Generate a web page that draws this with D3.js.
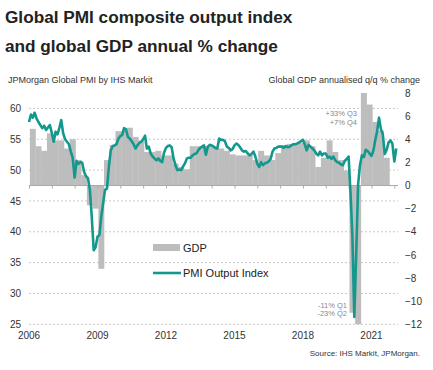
<!DOCTYPE html>
<html>
<head>
<meta charset="utf-8">
<script src="https://cdn.jsdelivr.net/npm/d3@7"></script>
<style>
  body { margin: 0; background: #fff; }
  svg { display: block; font-family: "Liberation Sans", Arial, sans-serif; }
</style>
</head>
<body>
<svg id="chart" width="433" height="370"></svg>
<script>
// PMI output index, monthly, Jan 2006 .. Feb 2022
const pmiStart = [2006, 0];
const pmi = [
  57.8, 59.0, 58.5, 59.3, 58.4, 57.8, 57.3, 56.8, 57.2, 56.5, 56.9, 57.3,
  56.0, 54.6, 56.2, 55.8, 56.8, 58.1, 56.0, 55.0, 54.6, 54.2, 53.0, 52.0,
  48.8, 51.5, 51.0, 51.3, 51.2, 49.7, 49.0, 48.7, 46.8, 42.4, 37.0, 37.5,
  39.2, 39.5, 42.4, 44.6, 46.8, 47.0, 50.5, 53.2, 53.9, 54.0, 54.2, 55.1,
  55.5, 55.7, 56.8, 56.6, 55.4, 55.1, 54.7, 54.2, 53.5, 54.0, 54.4, 54.6,
  55.0, 55.6, 53.5, 53.8, 52.7, 52.2, 51.9, 51.6, 51.9, 51.5, 51.3, 52.8,
  53.6, 53.9, 54.0, 53.7, 51.9, 50.8, 50.0, 50.1, 50.0, 50.6, 51.1, 51.9,
  52.0, 52.0, 52.4, 52.6, 52.7, 53.2, 53.6, 53.8, 54.0, 52.5, 53.8, 54.1,
  54.0, 53.8, 53.6, 53.5, 55.1, 54.9, 54.9, 54.7, 53.8, 53.6, 53.2, 53.4,
  54.0, 54.3, 54.1, 53.7, 53.2, 53.0, 53.1, 52.7, 52.4, 52.6, 53.0, 52.2,
  51.0, 50.5, 51.3, 50.8, 51.1, 51.2, 51.4, 51.8, 53.0, 53.5, 53.6, 53.8,
  53.8, 53.8, 53.6, 53.9, 53.7, 53.8, 54.0, 54.2, 54.2, 54.3, 54.5, 54.7,
  54.9, 54.1, 53.2, 54.1, 53.8, 53.5, 53.2, 52.7, 52.4, 53.0, 52.4, 52.7,
  52.7, 52.0, 52.2, 51.8, 52.2, 51.6, 51.3, 51.2, 50.9, 50.8, 51.5, 51.8,
  52.2, 46.1, 39.4, 26.2, 36.3, 47.7, 50.8, 52.4, 52.1, 53.3, 53.1, 52.7,
  52.3, 53.2, 54.8, 56.3, 58.5, 56.6, 55.8, 52.6, 53.3, 54.5, 54.8, 54.3,
  51.4, 53.5
];

// GDP annualised q/q %, quarterly, 2006 Q1 .. 2021 Q3
const gdpStart = [2006, 0];
const gdp = [
  4.9, 3.4, 3.0, 4.5,
  3.9, 3.9, 3.2, 4.0,
  2.2, 0.9, -1.7, -2.0,
  -7.2, 2.2, 3.5, 4.7,
  4.7, 5.0, 4.2, 3.9,
  2.9, 2.9, 3.0, 2.6,
  2.6, 1.9, 1.6, 1.4,
  3.4, 3.4, 3.4, 3.4,
  3.3, 3.2, 3.0, 2.7,
  2.6, 2.6, 2.6, 2.2,
  3.0, 2.6, 2.2, 2.8,
  3.5, 3.6, 3.6, 3.7,
  3.9, 3.4, 1.6, 2.4,
  3.9, 2.9, 2.2, 1.3,
  -11, -23, 33, 7,
  5.5, 4.75, 2.4
];

const pmiTicks = [25, 30, 35, 40, 45, 50, 55, 60];
const gdpTicks = [-12, -10, -8, -6, -4, -2, 0, 2, 4, 6, 8];
const yearLabels = [2006, 2009, 2012, 2015, 2018, 2021];

const colours = { line: '#14988d', bar: '#bdbdbd', grid: '#c8c8c8', text: '#333' };

const svg = d3.select('#chart');
const plot = { left: 29, right: 398, top: 93, bottom: 324.3 };

// Scales
const x = d3.scaleTime()
  .domain([new Date(2006, 0, 1), new Date(2022, 2, 1)])
  .range([plot.left, plot.right]);

const yL = d3.scaleLinear().domain([25, 62.5]).range([plot.bottom, plot.top]);
const yR = d3.scaleLinear().domain([-12, 8]).range([plot.bottom, plot.top]).clamp(true);

// Titles
const title = svg.append('g').attr('fill', '#222').style('font-weight', 'bold').style('font-size', '17.2px');
title.append('text').attr('x', 5).attr('y', 23).text('Global PMI composite output index');
title.append('text').attr('x', 5).attr('y', 52).text('and global GDP annual % change');

svg.append('text').attr('x', 8).attr('y', 83)
  .attr('fill', colours.text).style('font-size', '9px')
  .text('JPMorgan Global PMI by IHS Markit');
svg.append('text').attr('x', 420).attr('y', 83)
  .attr('fill', colours.text).style('font-size', '9px').attr('text-anchor', 'end')
  .text('Global GDP annualised q/q % change');

// Gridlines (left axis)
svg.append('g').selectAll('line').data(pmiTicks).join('line')
  .attr('x1', plot.left).attr('x2', plot.right)
  .attr('y1', d => yL(d)).attr('y2', d => yL(d))
  .attr('stroke', colours.grid).attr('stroke-dasharray', '2 2');

// GDP bars
const quarterDate = (i, shift) => new Date(gdpStart[0], gdpStart[1] + i * 3 + shift, 15);
svg.append('g').selectAll('rect').data(gdp).join('rect')
  .attr('x', (d, i) => x(quarterDate(i, 0)))
  .attr('width', (d, i) => x(quarterDate(i, 3)) - x(quarterDate(i, 0)) + 0.3)
  .attr('y', d => Math.min(yR(d), yR(0)))
  .attr('height', d => Math.abs(yR(d) - yR(0)))
  .attr('fill', colours.bar);

// Zero line with year ticks
const xAxis = d3.axisBottom(x)
  .ticks(d3.timeYear.every(1))
  .tickSize(3)
  .tickFormat('');
const xAxisG = svg.append('g').attr('transform', `translate(0,${yR(0)})`).call(xAxis);
xAxisG.select('.domain').attr('stroke', '#aaa').attr('d', `M${plot.left},0H${plot.right}`);
xAxisG.selectAll('.tick line').attr('stroke', '#aaa');

// Year labels
svg.append('g').selectAll('text').data(yearLabels).join('text')
  .attr('x', d => x(new Date(d, 0, 1)))
  .attr('y', 339)
  .attr('text-anchor', 'middle')
  .attr('fill', colours.text).style('font-size', '10px')
  .text(d => d);

// Left axis labels
const yLAxis = d3.axisLeft(yL).tickValues(pmiTicks).tickSize(0).tickPadding(0);
const yLG = svg.append('g').attr('transform', 'translate(21,0)').call(yLAxis);
yLG.select('.domain').remove();
yLG.selectAll('text').attr('fill', colours.text).style('font-size', '10px')
  .style('font-family', '"Liberation Sans", Arial, sans-serif');

// Right axis labels
const yRAxis = d3.axisRight(yR).tickValues(gdpTicks).tickSize(0).tickPadding(0);
const yRG = svg.append('g').attr('transform', 'translate(405,0)').call(yRAxis);
yRG.select('.domain').remove();
yRG.selectAll('text').attr('fill', colours.text).style('font-size', '10px')
  .style('font-family', '"Liberation Sans", Arial, sans-serif');

// PMI line
const pmiData = pmi.map((v, i) => ({ date: new Date(pmiStart[0], pmiStart[1] + i, 1), value: v }));
const line = d3.line().x(d => x(d.date)).y(d => yL(d.value));
svg.append('path').datum(pmiData)
  .attr('d', line)
  .attr('fill', 'none')
  .attr('stroke', colours.line)
  .attr('stroke-width', 2.6)
  .attr('stroke-linejoin', 'round');

// Annotations
const note = svg.append('g').attr('fill', '#888').style('font-size', '7.5px').attr('text-anchor', 'end');
note.append('text').attr('x', 357).attr('y', 116).text('+33% Q3');
note.append('text').attr('x', 357).attr('y', 124.5).text('+7% Q4');
note.append('text').attr('x', 347).attr('y', 308).text('-11% Q1');
note.append('text').attr('x', 347).attr('y', 316).text('-23% Q2');

// Legend
const legend = svg.append('g').style('font-size', '11px').attr('fill', '#222');
legend.append('rect').attr('x', 153).attr('y', 244).attr('width', 27).attr('height', 7).attr('fill', colours.bar);
legend.append('text').attr('x', 183).attr('y', 251.5).text('GDP');
legend.append('line').attr('x1', 153).attr('x2', 181).attr('y1', 273).attr('y2', 273)
  .attr('stroke', colours.line).attr('stroke-width', 2.6);
legend.append('text').attr('x', 183).attr('y', 277).text('PMI Output Index');

// Source
svg.append('text').attr('x', 420).attr('y', 356)
  .attr('text-anchor', 'end').attr('fill', colours.text).style('font-size', '8px')
  .text('Source: IHS Markit, JPMorgan.');
</script>
</body>
</html>
